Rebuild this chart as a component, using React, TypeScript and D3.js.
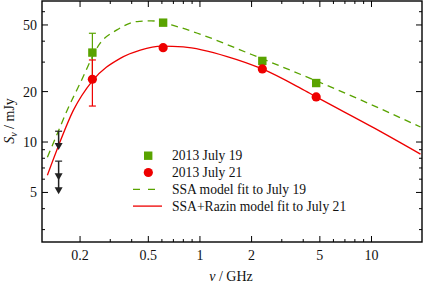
import * as d3 from 'd3';

// observed points: frequency (GHz), flux (mJy)
const july19 = [
  { f: 0.236, s: 34.2, lo: 24.0, hi: 44.6 },
  { f: 0.61, s: 51.6 },
  { f: 2.31, s: 30.5 },
  { f: 4.76, s: 22.5 },
];
const july21 = [
  { f: 0.236, s: 23.7, lo: 16.4, hi: 30.9 },
  { f: 0.61, s: 36.6 },
  { f: 2.31, s: 27.3 },
  { f: 4.76, s: 18.6 },
];
// upper limits at 150 MHz
const limits = [
  { f: 0.15, top: 11.6, marks: [9.33] },
  { f: 0.15, top: 7.69, marks: [6.17, 5.09] },
];
// model curves
const ssaFit: [number, number][] = [
  [0.129, 8.1], [0.153, 12.3], [0.167, 15.2], [0.2, 22.4], [0.262, 38.9], [0.328, 46.7],
  [0.43, 52.4], [0.52, 52.9], [0.736, 48.9], [1, 44.1], [2, 33.3], [5, 22.7], [10, 16.7], [19.3, 12.3],
];
const razinFit: [number, number][] = [
  [0.129, 6.34], [0.149, 9.38], [0.183, 15.5], [0.236, 23.2], [0.343, 31.6], [0.449, 35.4],
  [0.6, 37.4], [0.8, 37.0], [1.44, 32.4], [2.31, 27.3], [3.87, 20.9], [4.76, 18.6], [10.4, 12.1], [19.3, 8.47],
];

const xLabels = [0.2, 0.5, 1, 2, 5, 10];
const xMinor = [0.3, 0.4, 0.6, 0.7, 0.8, 0.9, 3, 4, 6, 7, 8, 9];
const yLabels = [5, 10, 20, 50];
const yMinor = [3, 4, 6, 7, 8, 9, 30, 40, 60];

const W = 437;
const H = 286;
const m = { left: 42, right: 15, top: 1, bottom: 44 };
const green = '#59a300';
const red = '#ee0000';
const serif = { fontFamily: 'Liberation Serif' };

export default function App() {
  const x = d3.scaleLog().domain([0.12, 19.7]).range([m.left, W - m.right]);
  const y = d3.scaleLog().domain([2.53, 69.5]).range([H - m.bottom, m.top]);
  const [x0, x1] = x.range();
  const [y0, y1] = y.range();

  const line = d3
    .line<[number, number]>()
    .x((d) => x(d[0]))
    .y((d) => y(d[1]))
    .curve(d3.curveMonotoneX);

  const tri = (cx: number, cy: number) =>
    `M${cx - 4},${cy - 4}L${cx + 4},${cy - 4}L${cx},${cy + 3}Z`;

  const legend = [
    { label: '2013 July 19', kind: 'square' },
    { label: '2013 July 21', kind: 'circle' },
    { label: 'SSA model fit to July 19', kind: 'dash' },
    { label: 'SSA+Razin model fit to July 21', kind: 'solid' },
  ];

  return (
    <svg width={W} height={H} style={{ position: 'absolute', left: 0, top: 0 }}>
      <rect width={W} height={H} fill="#fff" />
      <defs>
        <clipPath id="plot">
          <rect x={x0} y={y1} width={x1 - x0} height={y0 - y1} />
        </clipPath>
      </defs>

      <g clipPath="url(#plot)">
        <path d={line(ssaFit) ?? ''} fill="none" stroke={green} strokeWidth={1.3} strokeDasharray="7,5" />
        <path d={line(razinFit) ?? ''} fill="none" stroke={red} strokeWidth={1.3} />

        {limits.map((l, i) => {
          const cx = x(l.f);
          const last = l.marks[l.marks.length - 1];
          return (
            <g key={i} stroke="#222" fill="#222">
              <line x1={cx} x2={cx} y1={y(l.top)} y2={y(last)} strokeWidth={1.5} />
              <line x1={cx - 3.5} x2={cx + 3.5} y1={y(l.top)} y2={y(l.top)} strokeWidth={1.2} />
              {l.marks.map((v, j) => (
                <path key={j} d={tri(cx, y(v))} stroke="none" />
              ))}
            </g>
          );
        })}

        {july19.map((d, i) =>
          d.hi ? (
            <g key={'e' + i} stroke={green} strokeWidth={1.2}>
              <line x1={x(d.f)} x2={x(d.f)} y1={y(d.hi)} y2={y(d.lo!)} />
              <line x1={x(d.f) - 3.5} x2={x(d.f) + 3.5} y1={y(d.hi)} y2={y(d.hi)} />
            </g>
          ) : null,
        )}
        {july19.map((d, i) => (
          <rect key={i} x={x(d.f) - 4.2} y={y(d.s) - 4.2} width={8.4} height={8.4} fill={green} />
        ))}
        {july21.map((d, i) =>
          d.hi ? (
            <g key={'e' + i} stroke={red} strokeWidth={1.2}>
              <line x1={x(d.f)} x2={x(d.f)} y1={y(d.hi)} y2={y(d.lo!)} />
              <line x1={x(d.f) - 3.5} x2={x(d.f) + 3.5} y1={y(d.hi)} y2={y(d.hi)} />
              <line x1={x(d.f) - 3.5} x2={x(d.f) + 3.5} y1={y(d.lo!)} y2={y(d.lo!)} />
            </g>
          ) : null,
        )}
        {july21.map((d, i) => (
          <circle key={i} cx={x(d.f)} cy={y(d.s)} r={4.6} fill={red} />
        ))}
      </g>

      {/* ticks, all four sides, inward */}
      <g stroke="#000" strokeWidth={1}>
        {xLabels.concat(xMinor).map((v) => {
          const len = xLabels.includes(v) ? 6 : 3;
          return (
            <g key={'x' + v}>
              <line x1={x(v)} x2={x(v)} y1={y0} y2={y0 - len} />
              <line x1={x(v)} x2={x(v)} y1={y1} y2={y1 + len} />
            </g>
          );
        })}
        {yLabels.concat(yMinor).map((v) => {
          const len = yLabels.includes(v) ? 6 : 3;
          return (
            <g key={'y' + v}>
              <line x1={x0} x2={x0 + len} y1={y(v)} y2={y(v)} />
              <line x1={x1} x2={x1 - len} y1={y(v)} y2={y(v)} />
            </g>
          );
        })}
      </g>
      <rect x={x0} y={y1} width={x1 - x0} height={y0 - y1} fill="none" stroke="#000" strokeWidth={1.4} />

      <g fontSize={14} fill="#111" style={serif}>
        {xLabels.map((v) => (
          <text key={v} x={x(v)} y={y0 + 18} textAnchor="middle" style={serif}>
            {String(v)}
          </text>
        ))}
        {yLabels.map((v) => (
          <text key={v} x={x0 - 5} y={y(v) + 5} textAnchor="end" style={serif}>
            {String(v)}
          </text>
        ))}
      </g>

      <text x={231} y={281} textAnchor="middle" fontSize={14} fill="#111" style={serif}>
        <tspan fontStyle="italic">ν</tspan> / GHz
      </text>
      <text transform="translate(14,121) rotate(-90)" textAnchor="middle" fontSize={14} fill="#111" style={serif}>
        <tspan fontStyle="italic">S</tspan>
        <tspan fontStyle="italic" fontSize={10} dy={3}>ν</tspan>
        <tspan dy={-3}> / mJy</tspan>
      </text>

      <g fontSize={13.6} fill="#111">
        {legend.map((l, i) => {
          const ly = 155.7 + i * 16.8;
          return (
            <g key={l.label}>
              {l.kind === 'square' && <rect x={144} y={ly - 4.2} width={8.4} height={8.4} fill={green} />}
              {l.kind === 'circle' && <circle cx={148.3} cy={ly} r={4.6} fill={red} />}
              {l.kind === 'dash' && (
                <line x1={133} x2={162} y1={ly} y2={ly} stroke={green} strokeWidth={1.3} strokeDasharray="7,8" />
              )}
              {l.kind === 'solid' && <line x1={133} x2={162} y1={ly} y2={ly} stroke={red} strokeWidth={1.3} />}
              <text x={172} y={ly + 4.6} style={serif}>
                {l.label}
              </text>
            </g>
          );
        })}
      </g>
    </svg>
  );
}
